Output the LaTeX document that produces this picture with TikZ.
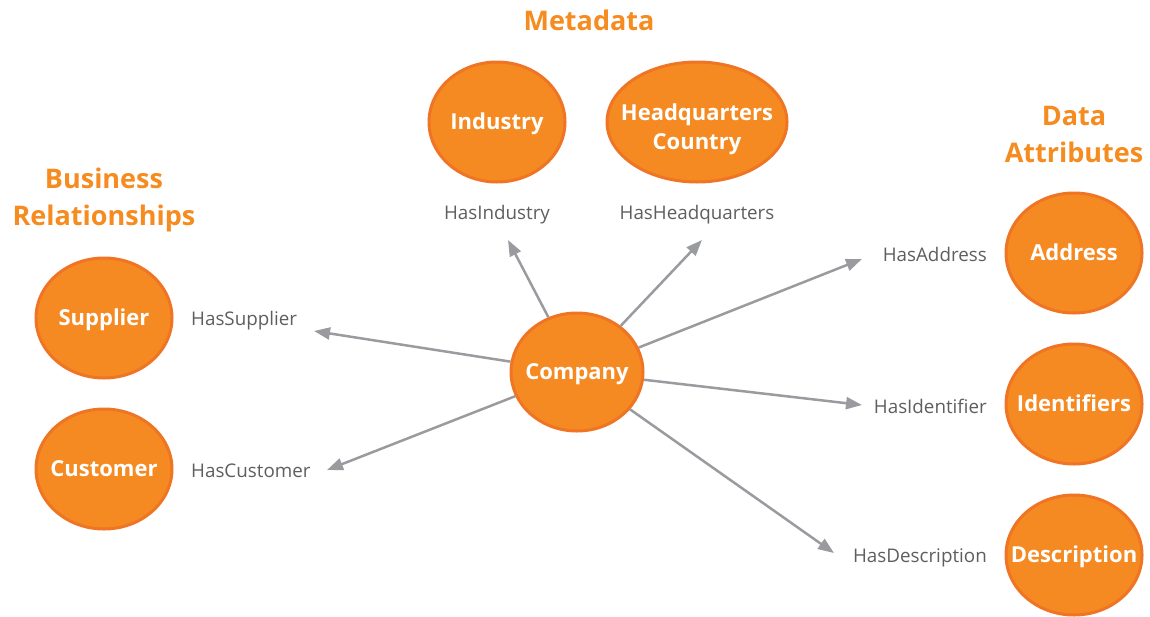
\documentclass[tikz,border=0pt]{standalone}
\usepackage{fontspec}
\setmainfont{Open Sans}
\usetikzlibrary{shapes.geometric,arrows.meta}
\definecolor{ofill}{HTML}{F58A22}
\definecolor{oline}{HTML}{EF7424}
\definecolor{otitle}{HTML}{F68B1F}
\definecolor{gtext}{HTML}{5E5E60}
\definecolor{garrow}{HTML}{9A9B9F}
\newcommand{\etx}[2][-7pt]{\smash{\raisebox{#1}{\makebox[0pt]{\begin{tabular}{@{}c@{}}#2\end{tabular}}}}}
\begin{document}
\begin{tikzpicture}[x=1pt,y=-1pt,
  ent/.style={ellipse,draw=oline,line width=3pt,fill=ofill,text=white,inner sep=0pt,
    minimum width=136pt,minimum height=120pt,
    font=\fontsize{22}{29}\selectfont\bfseries},
  ttl/.style={text=otitle,align=center,font=\fontsize{27}{37}\selectfont\bfseries},
  rel/.style={text=gtext,inner sep=0pt,font=\fontsize{18.8}{22}\selectfont},
  arr/.style={draw=garrow,line width=2.5pt,-{Triangle[length=16pt,width=12pt]}}]
\useasboundingbox (0,0) rectangle (1150,616);
% entities
\node[ent,minimum width=132pt,minimum height=118pt] (company) at (577,372) {\etx{Company}};
\node[ent] (industry) at (497,122) {\etx{Industry}};
\node[ent,minimum width=180pt] (hq) at (697,122) {\etx[-12.5pt]{Headquarters\\Country}};
\node[ent] (supplier) at (104,318) {\etx{Supplier}};
\node[ent] (customer) at (104,469) {\etx{Customer}};
\node[ent] (address) at (1074,253) {\etx{Address}};
\node[ent] (ident) at (1074,404) {\etx{Identifiers}};
\node[ent] (desc) at (1074,555) {\etx{Description}};
% titles
\node[ttl] (tmeta) at (589,20) {Metadata};
\node[ttl] (tbus) at (104,200) {Business\\Relationships};
\node[ttl] (tdata) at (1074,134) {Data\\Attributes};
% relation labels
\node[rel] (lind) at (497,215) {HasIndustry};
\node[rel] (lhq) at (697,215) {HasHeadquarters};
\node[rel,anchor=west] (lsup) at (191,320.5) {HasSupplier};
\node[rel,anchor=west] (lcus) at (191,471) {HasCustomer};
\node[rel,anchor=east] (ladd) at (987,254) {HasAddress};
\node[rel,anchor=east] (lid) at (987,406) {HasIdentifier};
\node[rel,anchor=east] (ldesc) at (987,558) {HasDescription};
% arrow tips
\coordinate (tsup) at (314,331);
\coordinate (tcus) at (327,470);
\coordinate (tind) at (508,240);
\coordinate (thq) at (702,240);
\coordinate (tadd) at (862,259);
\coordinate (tid) at (862,405);
\coordinate (tdesc) at (834,553);
% connectors
\draw[arr] (company) -- (tsup);
\draw[arr] (company) -- (tcus);
\draw[arr] (company) -- (tind);
\draw[arr] (company) -- (thq);
\draw[arr] (company) -- (tadd);
\draw[arr] (company) -- (tid);
\draw[arr] (company) -- (tdesc);
\end{tikzpicture}
\end{document}
